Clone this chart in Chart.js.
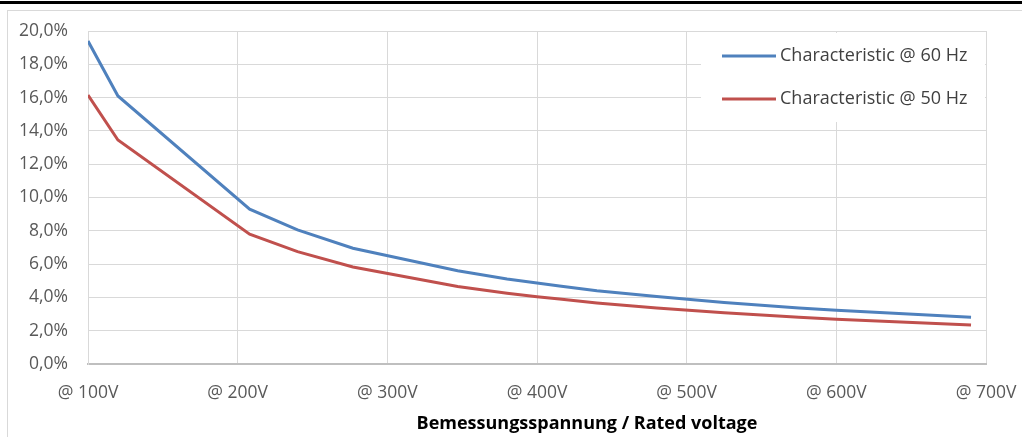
<!DOCTYPE html>
<html>
<head>
<meta charset="utf-8">
<script src="https://cdn.jsdelivr.net/npm/chart.js@4.4.1/dist/chart.umd.min.js"></script>
<style>
  html, body { margin: 0; padding: 0; background: #fff; }
  #wrap { width: 1022px; height: 437px; position: relative; }
</style>
</head>
<body>
<div id="wrap"><canvas id="myChart" width="1022" height="437"></canvas></div>
<script>
var voltages = [100, 120, 208, 240, 277, 347, 380, 400, 415, 440, 480, 525, 575, 600, 690];
var hz60 = [19.4, 16.1, 9.3, 8.05, 6.95, 5.6, 5.1, 4.86, 4.68, 4.4, 4.05, 3.7, 3.37, 3.23, 2.81];
var hz50 = [16.15, 13.45, 7.8, 6.75, 5.83, 4.66, 4.25, 4.04, 3.9, 3.67, 3.37, 3.08, 2.81, 2.69, 2.34];
var seriesNames = ["Characteristic @ 60 Hz", "Characteristic @ 50 Hz"];
var seriesColors = ["#4f81bd", "#c0504d"];
var xTitle = "Bemessungsspannung / Rated voltage";

function toPoints(vals) {
  return voltages.map(function (v, i) { return { x: v, y: vals[i] }; });
}

var frame = {
  id: "frame",
  beforeDraw: function (chart) {
    var ctx = chart.ctx;
    ctx.save();
    ctx.fillStyle = "#fff";
    ctx.fillRect(0, 0, chart.width, chart.height);
    ctx.strokeStyle = "#d9d9d9";
    ctx.lineWidth = 1;
    ctx.strokeRect(7.5, 10.5, chart.width + 10, chart.height + 10);
    ctx.fillStyle = "#000";
    ctx.fillRect(0, 1, chart.width, 3);
    ctx.restore();
  },
  afterDraw: function (chart) {
    var ctx = chart.ctx;
    ctx.save();
    // legend box
    ctx.fillStyle = "#fff";
    ctx.fillRect(701, 33, 284, 89);
    ctx.font = "18px 'Open Sans', sans-serif";
    ctx.textBaseline = "middle";
    var rows = [56, 99];
    for (var i = 0; i < seriesNames.length; i++) {
      ctx.strokeStyle = seriesColors[i];
      ctx.lineWidth = 3;
      ctx.beginPath();
      ctx.moveTo(722, rows[i]);
      ctx.lineTo(776, rows[i]);
      ctx.stroke();
      ctx.fillStyle = "#404040";
      ctx.fillText(seriesNames[i], 780, rows[i]);
    }
    // axis title
    ctx.font = "bold 18px 'Open Sans', sans-serif";
    ctx.fillStyle = "#000";
    ctx.textAlign = "center";
    ctx.fillText(xTitle, 587, 424);
    ctx.restore();
  }
};

new Chart("myChart", {
  type: "line",
  data: {
    datasets: [
      {
        label: seriesNames[0],
        data: toPoints(hz60),
        borderColor: seriesColors[0],
        borderWidth: 3,
        pointRadius: 0,
        tension: 0,
      },
      {
        label: seriesNames[1],
        data: toPoints(hz50),
        borderColor: seriesColors[1],
        borderWidth: 3,
        pointRadius: 0,
        tension: 0,
      },
    ],
  },
  plugins: [frame],
  options: {
    responsive: false,
    animation: false,
    layout: { padding: { top: 31, right: 36, left: 0, bottom: 0 } },
    scales: {
      x: {
        type: "linear",
        min: 100,
        max: 700,
        afterFit: function (scale) { scale.height = 73; scale.paddingRight = 0; },
        ticks: {
          stepSize: 100,
          color: "#595959",
          font: { family: "'Open Sans', sans-serif", size: 17.5 },
          padding: 19,
          callback: function (v) { return "@ " + v + "V"; },
        },
        grid: { color: "#d9d9d9", drawTicks: false },
        border: { color: "#bfbfbf", width: 2 },
      },
      y: {
        min: 0,
        max: 20,
        afterFit: function (scale) { scale.width = 88; },
        ticks: {
          stepSize: 2,
          color: "#595959",
          font: { family: "'Open Sans', sans-serif", size: 17.5 },
          padding: 20,
          callback: function (v) { return v.toFixed(1).replace(".", ",") + "%"; },
        },
        grid: { color: "#d9d9d9", drawTicks: false },
        border: { color: "#d9d9d9" },
      },
    },
    plugins: {
      legend: { display: false },
      tooltip: { enabled: false },
    },
  },
});
</script>
</body>
</html>
